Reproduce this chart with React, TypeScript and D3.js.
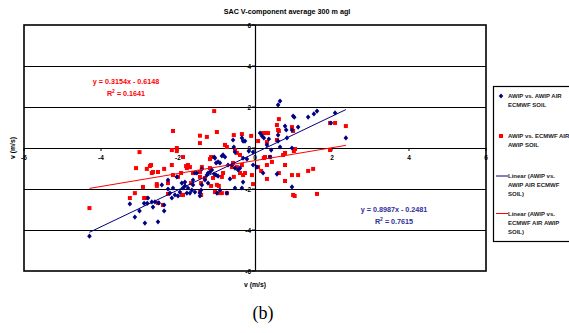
import * as d3 from "d3";

const W = 569, H = 333;
const PLOT = { left: 24, right: 486, top: 25, bottom: 271 };

// axis domain + ticks
const AXIS_MIN = -6, AXIS_MAX = 6;
const TICKS = [-6, -4, -2, 0, 2, 4, 6];

// AWIP vs. AWIP AIR ECMWF SOIL (blue diamonds)
const blueData: [number, number][] = [
  [-4.3, -4.3], [-3.25, -2.73], [-3.12, -3.37], [-3.0, -3.07], [-2.86, -3.66], [-2.88, -2.7], [-2.8, -2.7],
  [-2.78, -2.44], [-2.68, -2.63], [-2.65, -2.88], [-2.52, -3.6], [-2.6, -2.63], [-2.5, -2.68], [-2.36, -3.07],
  [-2.42, -1.8], [-2.36, -2.78], [-2.26, -2.0], [-2.26, -1.56], [-2.21, -2.2], [-2.16, -2.44], [-2.13, -1.95],
  [-2.08, -2.29], [-2.0, -2.34], [-2.03, -1.41], [-1.95, -2.15], [-1.9, -1.71], [-1.87, -1.95], [-1.82, -1.85],
  [-1.82, -1.66], [-1.77, -2.2], [-1.74, -1.95], [-1.69, -2.2], [-1.64, -2.05], [-1.61, -1.8], [-1.56, -2.15],
  [-1.61, -1.56], [-1.56, -1.22], [-1.51, -1.22], [-1.43, -2.2], [-1.43, -2.34], [-1.4, -2.05], [-1.38, -1.8],
  [-1.38, -1.02], [-1.3, -1.56], [-1.25, -1.32], [-1.22, -1.71], [-1.22, -1.22], [-1.17, -1.17], [-1.12, -1.07],
  [-1.06, -1.27], [-1.01, -1.32], [-0.96, -1.37], [-1.06, -0.44], [-1.04, -0.49], [-1.01, -0.73], [-0.96, -0.68],
  [-0.91, -0.73], [-0.86, -0.39], [-0.83, -0.34], [-0.78, -0.44], [-0.7, -0.83], [-0.65, -1.51], [-0.99, -2.2],
  [-0.91, -2.05], [-0.73, -2.2], [-0.6, -0.83], [-0.52, -0.98], [-0.44, -1.07], [-0.39, -0.98], [-0.52, -1.95],
  [-0.34, -1.95], [-0.31, -1.66], [-0.31, -0.49], [-0.21, -0.54], [-0.05, -0.83], [-0.16, -0.15], [-0.05, -0.2],
  [0.05, -0.93], [0.21, -1.22], [0.57, -1.27], [0.42, -0.1], [0.39, -0.44], [0.96, -1.9], [-0.57, 0.39],
  [-0.55, 0.05], [-0.52, -0.2], [-0.34, 0.49], [-0.31, 0.34], [-0.26, 0.34], [0.13, 0.73], [0.18, 0.59],
  [0.23, 0.49], [0.31, 0.15], [0.36, 0.44], [0.6, 0.63], [0.6, 0.34], [0.65, 0.05], [0.83, 0.49], [0.96, 0.0],
  [0.78, 1.07], [0.81, 0.88], [0.96, 0.88], [1.12, 1.02], [0.99, 1.56], [1.02, 1.5], [0.6, 2.1], [0.65, 2.29],
  [1.38, 1.51], [1.53, 1.66], [1.61, 1.8], [2.08, 1.71], [1.97, 1.22], [2.36, 0.49],
];

// AWIP vs. ECMWF AIR AWIP SOIL (red squares)
const redData: [number, number][] = [
  [-1.06, 1.8], [-2.13, 0.83], [-1.43, 0.6], [-1.25, 0.54], [-0.99, 0.78], [-1.43, 0.24], [-0.55, 0.63],
  [-0.34, 0.68], [-0.1, 0.59], [0.08, 0.34], [0.21, 0.73], [-0.78, 0.15], [-0.73, 0.05], [-3.0, -0.2],
  [-2.16, -0.1], [-2.03, 0.0], [-2.03, -0.15], [-1.87, -0.44], [-1.14, -0.44], [-1.17, -0.54], [-0.52, -0.1],
  [-0.47, -0.24], [-0.39, -0.34], [0.62, 1.41], [0.57, 1.12], [0.6, 0.88], [0.26, 0.73], [0.34, 0.73],
  [0.62, 0.83], [0.96, 1.02], [0.99, 0.83], [0.57, 0.39], [0.31, 0.29], [0.78, -0.24], [0.73, -0.34],
  [1.01, -0.15], [1.04, -0.05], [1.95, -0.1], [2.08, 1.22], [2.36, 1.07], [1.95, 1.22], [0.78, -0.83],
  [0.96, -1.32], [1.12, -1.32], [1.38, -1.12], [1.51, -1.02], [0.78, -1.61], [0.99, -2.29], [1.03, -2.34],
  [1.61, -2.24], [0.62, -1.22], [0.44, -0.68], [0.31, -0.83], [0.31, -1.51], [0.16, -1.12], [0.26, -0.44],
  [0.39, -0.44], [0.23, -0.49], [0.08, -0.93], [-0.05, -1.76], [-4.3, -2.93], [-3.09, -0.98], [-2.73, -0.88],
  [-2.81, -1.02], [-2.7, -0.83], [-2.68, -1.22], [-2.65, -1.17], [-2.52, -1.17], [-2.36, -1.02], [-2.13, -1.32],
  [-2.91, -1.9], [-3.12, -2.2], [-3.25, -2.44], [-2.88, -2.44], [-2.83, -2.44], [-2.55, -1.76], [-2.55, -1.85],
  [-2.52, -2.68], [-2.39, -2.78], [-2.26, -2.24], [-2.16, -0.83], [-2.0, -1.41], [-1.92, -1.22], [-1.79, -0.88],
  [-1.74, -0.83], [-1.69, -0.93], [-1.77, -0.98], [-1.61, -1.22], [-2.26, -1.71], [-1.87, -2.29], [-1.9, -2.29],
  [-1.43, -1.17], [-1.43, -1.41], [-1.4, -1.71], [-1.66, -1.71], [-1.38, -0.93], [-1.3, -1.46], [-1.17, -0.98],
  [-1.09, -1.46], [-1.43, -2.15], [-1.4, -2.29], [-1.14, -1.85], [-0.99, -1.8], [-0.94, -1.85], [-1.04, -2.15],
  [-0.96, -2.2], [-0.86, -2.2], [-0.73, -2.2], [-0.86, -1.41], [-0.83, -1.22], [-0.57, -0.73], [-0.47, -0.93],
  [-0.34, -0.83], [-0.6, -0.93], [-0.55, -1.41], [-0.39, -1.22], [-0.31, -1.32], [-0.26, -1.22], [-0.08, -1.32],
];

// trendline coefficients (as printed on the chart)
const blueFit = { slope: 0.8987, intercept: -0.2481, r2: "0.7615" };
const redFit = { slope: 0.3154, intercept: -0.6148, r2: "0.1641" };

const BLUE = "#000080";
const BLUE_TXT = "#2E2E9A";
const RED = "#FF0000";
const FONT = "'Liberation Sans', Arial, sans-serif";

const x = d3.scaleLinear([AXIS_MIN, AXIS_MAX], [PLOT.left, PLOT.right]);
const y = d3.scaleLinear([AXIS_MIN, AXIS_MAX], [PLOT.bottom, PLOT.top]);

// trendline spans the x range of its own series
function fitLine(data: [number, number][], fit: { slope: number; intercept: number }) {
  const ext = d3.extent(data, (d) => d[0]) as [number, number];
  return d3.line<number>()
    .x((v) => x(v))
    .y((v) => y(fit.slope * v + fit.intercept))(ext) ?? "";
}

export default function App() {
  const blueLine = fitLine(blueData, blueFit);
  const redLine = fitLine(redData, redFit);
  const diamond = (cx: number, cy: number) =>
    `M${cx},${cy - 2.6}L${cx + 2.3},${cy}L${cx},${cy + 2.6}L${cx - 2.3},${cy}Z`;

  return (
    <div style={{ position: "absolute", left: 0, top: 0 }}>
      <svg width={W} height={H} style={{ display: "block", background: "#fff" }}>
        {/* Title */}
        <text x={287} y={14} textAnchor="middle" fontFamily={FONT} fontWeight="bold" fontSize={7.2} fill="#000">
          SAC V-component average 300 m agl
        </text>

        {/* Gridlines */}
        {TICKS.filter((t) => t !== 0 && Math.abs(t) !== 6).map((t) => (
          <line key={t} x1={PLOT.left} x2={PLOT.right} y1={Math.round(y(t)) + 0.5} y2={Math.round(y(t)) + 0.5}
            stroke="#000" strokeWidth={1} />
        ))}

        {/* Plot frame */}
        <rect x={PLOT.left} y={PLOT.top} width={PLOT.right - PLOT.left} height={PLOT.bottom - PLOT.top}
          fill="none" stroke="#000" strokeWidth={1.6} />

        {/* Axes through zero */}
        <line x1={PLOT.left} x2={PLOT.right} y1={Math.round(y(0)) + 0.5} y2={Math.round(y(0)) + 0.5} stroke="#000" strokeWidth={1.2} />
        <line x1={Math.round(x(0)) + 0.5} x2={Math.round(x(0)) + 0.5} y1={PLOT.top} y2={PLOT.bottom} stroke="#000" strokeWidth={1.2} />

        {/* X ticks */}
        {TICKS.map((t) => (
          <g key={`xt${t}`}>
            <line x1={x(t)} x2={x(t)} y1={y(0)} y2={y(0) + 3} stroke="#000" strokeWidth={1} />
            <text x={x(t)} y={y(0) + 12} textAnchor="middle" fontFamily={FONT} fontWeight="bold" fontSize={6.5} fill="#000">
              {t}
            </text>
          </g>
        ))}

        {/* Y ticks */}
        {TICKS.map((t) => (
          <g key={`yt${t}`}>
            <line x1={x(0) - 3} x2={x(0)} y1={y(t)} y2={y(t)} stroke="#000" strokeWidth={1} />
            <text x={x(0) - 4} y={y(t) + 2.5} textAnchor="end" fontFamily={FONT} fontWeight="bold" fontSize={6.5} fill="#000">
              {t}
            </text>
          </g>
        ))}

        {/* Red squares */}
        {redData.map((d, i) => (
          <rect key={`r${i}`} x={x(d[0]) - 2} y={y(d[1]) - 2} width={4} height={4} fill={RED} />
        ))}

        {/* Blue diamonds */}
        {blueData.map((d, i) => (
          <path key={`b${i}`} d={diamond(x(d[0]), y(d[1]))} fill={BLUE} />
        ))}

        {/* Trendlines */}
        <path d={redLine} stroke={RED} strokeWidth={1} fill="none" />
        <path d={blueLine} stroke={BLUE} strokeWidth={1} fill="none" />

        {/* Equations */}
        <text x={126} y={84} textAnchor="middle" fontFamily={FONT} fontWeight="bold" fontSize={7.2} fill={RED}>
          y = {redFit.slope}x - {Math.abs(redFit.intercept)}
        </text>
        <text x={126} y={96} textAnchor="middle" fontFamily={FONT} fontWeight="bold" fontSize={7.2} fill={RED}>
          R<tspan dy={-3} fontSize={5}>2</tspan><tspan dy={3}> = {redFit.r2}</tspan>
        </text>
        <text x={394} y={211.5} textAnchor="middle" fontFamily={FONT} fontWeight="bold" fontSize={7.2} fill={BLUE_TXT}>
          y = {blueFit.slope}x - {Math.abs(blueFit.intercept)}
        </text>
        <text x={394} y={223.5} textAnchor="middle" fontFamily={FONT} fontWeight="bold" fontSize={7.2} fill={BLUE_TXT}>
          R<tspan dy={-3} fontSize={5}>2</tspan><tspan dy={3}> = {blueFit.r2}</tspan>
        </text>

        {/* Axis titles */}
        <text x={x(0)} y={287} textAnchor="middle" fontFamily={FONT} fontWeight="bold" fontSize={6.8} fill="#000">
          v (m/s)
        </text>
        <text transform={`translate(15,${y(0)}) rotate(-90)`} textAnchor="middle" fontFamily={FONT} fontWeight="bold" fontSize={6.8} fill="#000">
          v (m/s)
        </text>

        {/* Legend */}
        <rect x={493.5} y={86.5} width={90} height={155} fill="#fff" stroke="#000" strokeWidth={1.2} />
        <path d={diamond(501, 96)} fill={BLUE} />
        <rect x={499} y={134} width={4} height={4} fill={RED} />
        <line x1={496} x2={508} y1={176} y2={176} stroke={BLUE} strokeWidth={1} />
        <line x1={496} x2={508} y1={213.5} y2={213.5} stroke={RED} strokeWidth={1} />
        <g fontFamily={FONT} fontWeight="bold" fontSize={6} fill="#222">
          <text x={508} y={98}>AWIP vs. AWIP AIR</text>
          <text x={508} y={107}>ECMWF SOIL</text>
          <text x={508} y={138}>AWIP vs. ECMWF AIR</text>
          <text x={508} y={147}>AWIP SOIL</text>
          <text x={508} y={178}>Linear (AWIP vs.</text>
          <text x={508} y={187}>AWIP AIR ECMWF</text>
          <text x={508} y={196}>SOIL)</text>
          <text x={508} y={215.5}>Linear (AWIP vs.</text>
          <text x={508} y={224.5}>ECMWF AIR AWIP</text>
          <text x={508} y={233.5}>SOIL)</text>
        </g>

        {/* Panel label */}
        <text x={263} y={319} textAnchor="middle" fontFamily="'Liberation Serif', 'Times New Roman', serif" fontSize={18} fill="#000">
          (b)
        </text>
      </svg>
    </div>
  );
}
